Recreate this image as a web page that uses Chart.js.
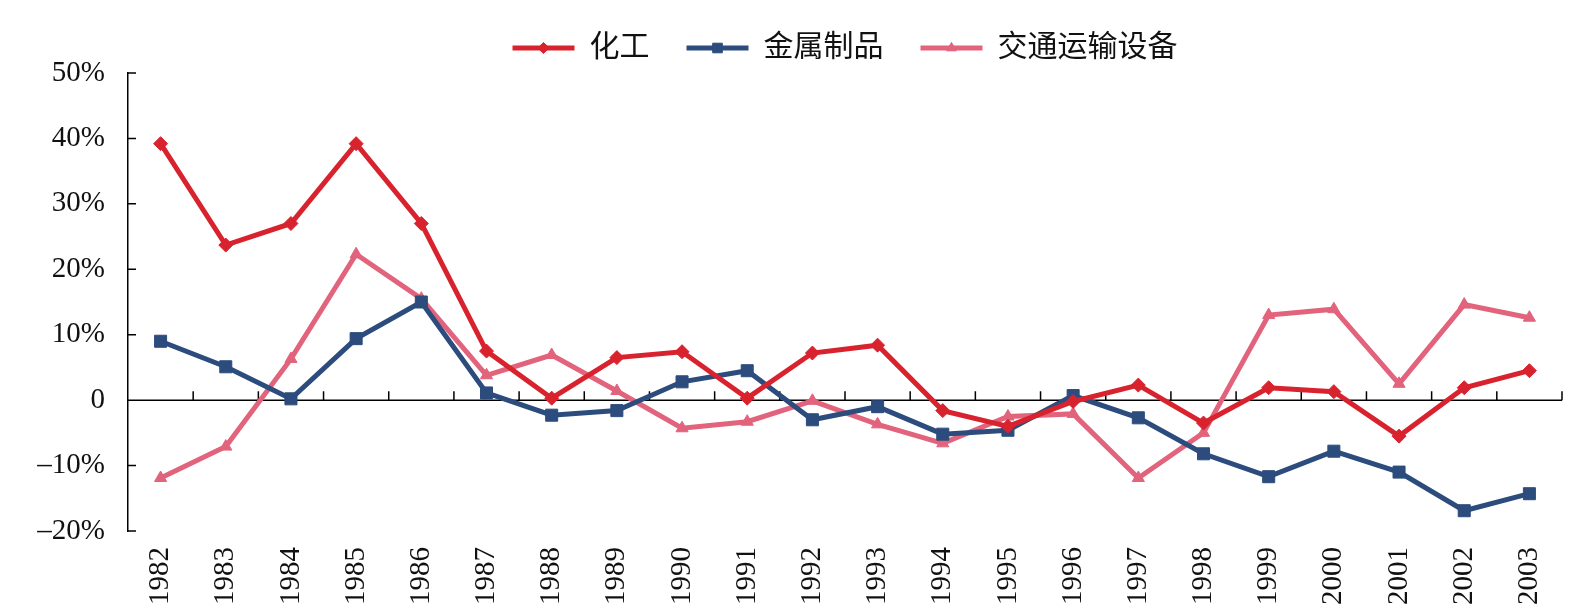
<!DOCTYPE html>
<html><head><meta charset="utf-8">
<script src="https://cdn.jsdelivr.net/npm/chart.js@4/dist/chart.umd.min.js"></script>
<style>html,body{margin:0;padding:0;background:#fff;}#wrap{width:1586px;height:616px;}</style>
</head><body><div id="wrap"><canvas id="c" width="1586" height="616"></canvas></div>
<script>
const years = ["1982","1983","1984","1985","1986","1987","1988","1989","1990","1991","1992","1993","1994","1995","1996","1997","1998","1999","2000","2001","2002","2003"];
const chemical = [39.2,23.7,27.0,39.2,27.0,7.5,0.3,6.5,7.4,0.3,7.2,8.4,-1.6,-4.0,-0.2,2.3,-3.5,1.9,1.3,-5.5,1.9,4.5];
const metal = [9.0,5.1,0.2,9.4,15.0,1.1,-2.3,-1.6,2.8,4.5,-3.0,-1.0,-5.2,-4.6,0.7,-2.7,-8.2,-11.7,-7.8,-11.0,-16.9,-14.3];
const transport = [-11.9,-7.1,6.3,22.3,15.5,3.8,6.9,1.4,-4.3,-3.3,-0.1,-3.7,-6.6,-2.5,-2.1,-11.9,-5.0,13.0,13.9,2.5,14.6,12.6];
const seriesNames = ["化工","金属制品","交通运输设备"];
const yTickLabels = {"50":"50%","40":"40%","30":"30%","20":"20%","10":"10%","0":"0","-10":"–10%","-20":"–20%"};

const RED = "#D8232F", BLUE = "#2C4C7D", PINK = "#E2637C";
const FONT = "'Liberation Serif', 'Noto Sans CJK SC', serif";

const axisMarks = {
  id: 'axisMarks',
  beforeDatasetsDraw(chart) {
    const {ctx, chartArea, scales:{x, y}} = chart;
    const py = y.getPixelForValue(0);
    ctx.save();
    ctx.strokeStyle = '#000';
    ctx.lineWidth = 1.5;
    ctx.beginPath();
    ctx.moveTo(chartArea.left, py);
    ctx.lineTo(chartArea.right, py);
    const n = years.length;
    for (let i = 0; i < n; i++) {
      const bx = (i < n - 1) ? (x.getPixelForValue(i) + x.getPixelForValue(i + 1)) / 2 : chartArea.right;
      ctx.moveTo(bx, py);
      ctx.lineTo(bx, py - 9);
    }
    y.ticks.forEach((t, i) => {
      const ty = y.getPixelForTick(i);
      ctx.moveTo(chartArea.left, ty);
      ctx.lineTo(chartArea.left + 8, ty);
    });
    ctx.stroke();
    ctx.restore();
  }
};

const legendMarkers = {
  id: 'legendMarkers',
  afterDraw(chart) {
    const lg = chart.legend;
    if (!lg || !lg.legendHitBoxes) return;
    const ctx = chart.ctx;
    const bw = lg.options.labels.boxWidth;
    lg.legendHitBoxes.forEach((hb, i) => {
      const ds = chart.data.datasets[i];
      const cx = hb.left + bw / 2;
      const cy = hb.top + hb.height / 2;
      ctx.save();
      ctx.fillStyle = ds.pointBackgroundColor;
      ctx.strokeStyle = ds.pointBorderColor;
      ctx.lineWidth = 1;
      Chart.helpers.drawPoint(ctx, {pointStyle: ds.pointStyle, radius: ds.pointRadius * 0.8, rotation: 0, borderWidth: 1}, cx, cy);
      ctx.restore();
    });
  }
};

function ds(label, data, color, style, r) {
  return {
    label, data,
    borderColor: color, backgroundColor: color,
    pointBackgroundColor: color, pointBorderColor: color,
    pointStyle: style, pointRadius: r, pointBorderWidth: 1,
    borderWidth: 5, tension: 0, fill: false
  };
}

new Chart(document.getElementById('c'), {
  type: 'line',
  data: {
    labels: years,
    datasets: [
      ds(seriesNames[0], chemical, RED, 'rectRot', 7),
      ds(seriesNames[1], metal, BLUE, 'rect', 8.5),
      ds(seriesNames[2], transport, PINK, 'triangle', 7)
    ]
  },
  options: {
    responsive: false,
    animation: false,
    layout: { padding: { top: -4, right: 24, left: 0, bottom: 0 } },
    plugins: {
      tooltip: { enabled: false },
      legend: {
        position: 'top',
        fullSize: false,
        labels: {
          boxWidth: 62, boxHeight: 5,
          padding: 37,
          color: '#111',
          font: { family: FONT, size: 30 },
          generateLabels(chart) {
            return chart.data.datasets.map((d, i) => ({
              text: d.label, fillStyle: d.borderColor, strokeStyle: d.borderColor,
              lineWidth: 0, hidden: false, datasetIndex: i, fontColor: '#111'
            }));
          }
        }
      }
    },
    scales: {
      x: {
        offset: true,
        grid: { display: false },
        border: { display: false },
        ticks: {
          minRotation: 90, maxRotation: 90, autoSkip: false,
          color: '#111', padding: 8,
          font: { family: FONT, size: 29 }
        },
        afterFit(s) { s.height = 85; }
      },
      y: {
        min: -20, max: 50,
        grid: { drawOnChartArea: false, drawTicks: false },
        border: { display: true, color: '#000', width: 1.5 },
        ticks: {
          stepSize: 10, color: '#111', padding: 23,
          font: { family: FONT, size: 29 },
          callback: (v) => yTickLabels[String(v)] ?? ''
        },
        afterFit(s) { s.width = 128; }
      }
    }
  },
  plugins: [axisMarks, legendMarkers]
});
</script>
</body></html>
